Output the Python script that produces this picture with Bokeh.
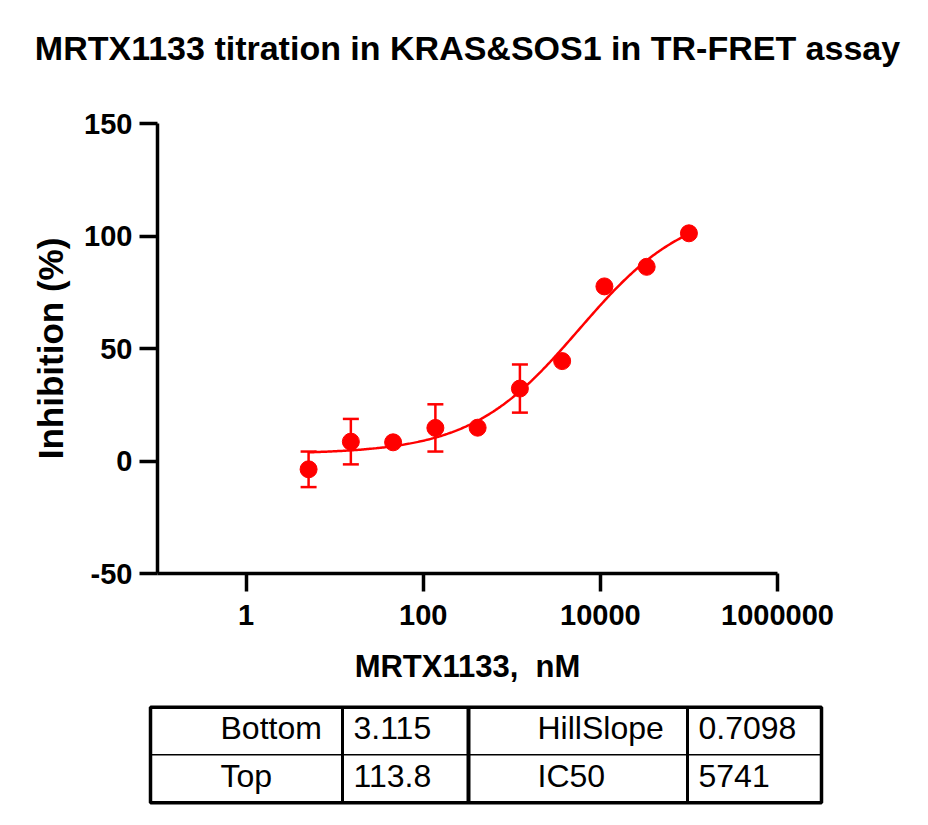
import numpy as np
from bokeh.plotting import figure
from bokeh.models import (ColumnDataSource, Range1d, FixedTicker, CustomJSTickFormatter,
                          Whisker, TeeHead, LinearScale)
from bokeh.core.properties import value
from bokeh.embed import file_html
from bokeh.resources import INLINE

# ---------------- data ----------------
title_text = "MRTX1133 titration in KRAS&SOS1 in TR-FRET assay"
x_label = "MRTX1133,\u00a0 nM"
y_label = "Inhibition (%)"

conc_nM = [5.08, 15.24, 45.72, 137.2, 411.5, 1235.0, 3704.0, 11111.0, 33333.0, 100000.0]
inhibition = [-3.7, 8.6, 8.3, 14.7, 14.8, 32.2, 44.4, 77.6, 86.3, 101.2]
inhibition_sd = [7.9, 10.1, 0.0, 10.5, 0.0, 10.7, 0.0, 0.0, 0.0, 0.0]

x_ticks = [1, 100, 10000, 1000000]
x_tick_labels = ["1", "100", "10000", "1000000"]
y_ticks = [-50, 0, 50, 100, 150]
y_tick_labels = ["-50", "0", "50", "100", "150"]

x_axis_min, x_axis_max = 0.1, 1e6
y_axis_min, y_axis_max = -50, 150

fit_bottom = 3.115
fit_top = 113.8
fit_hillslope = 0.7098
fit_ic50 = 5741.0

table_names_left = ["Bottom", "Top"]
table_values_left = ["3.115", "113.8"]
table_names_right = ["HillSlope", "IC50"]
table_values_right = ["0.7098", "5741"]

# ---------------- layout / styles ----------------
RED = "#FF0000"
FONT = "Liberation Sans"
W, H = 912, 817
# pixel positions of the axes box on the canvas
AX_L, AX_R, AX_T, AX_B = 157, 777, 123, 573

px_per_dec = (AX_R - AX_L) / (np.log10(x_axis_max) - np.log10(x_axis_min))
x_start = 10 ** (np.log10(x_axis_min) - AX_L / px_per_dec)
x_end = 10 ** (np.log10(x_axis_max) + (W - AX_R) / px_per_dec)
px_per_unit = (AX_B - AX_T) / (y_axis_max - y_axis_min)
y_start = y_axis_min - (H - AX_B) / px_per_unit
y_end = y_axis_max + AX_T / px_per_unit

p = figure(width=W, height=H, x_axis_type="log",
           x_range=Range1d(x_start, x_end), y_range=Range1d(y_start, y_end),
           output_backend="svg", toolbar_location=None, min_border=0)
p.extra_x_ranges = {"px": Range1d(0, W)}
p.extra_x_scales = {"px": LinearScale()}
p.extra_y_ranges = {"px": Range1d(H, 0)}
p.extra_y_scales = {"px": LinearScale()}
p.title.visible = False
p.outline_line_color = None
p.xgrid.visible = False
p.ygrid.visible = False
p.background_fill_color = "white"
p.border_fill_color = "white"

for ax in (p.xaxis[0], p.yaxis[0]):
    ax.axis_line_width = 3.5
    ax.axis_line_color = "black"
    ax.major_tick_line_width = 3.5
    ax.major_tick_line_color = "black"
    ax.major_tick_out = 18
    ax.major_tick_in = 0
    ax.minor_tick_line_color = None
    ax.major_label_text_font = FONT
    ax.major_label_text_font_size = "29px"
    ax.major_label_text_font_style = "bold"
    ax.major_label_text_color = "black"
    ax.axis_label_text_font = FONT
    ax.axis_label_text_font_style = "bold"
    ax.axis_label_text_color = "black"

xa = p.xaxis[0]
xa.fixed_location = y_axis_min
xa.bounds = (x_axis_min, x_axis_max)
xa.ticker = FixedTicker(ticks=x_ticks)
xa.formatter = CustomJSTickFormatter(
    args=dict(tvals=x_ticks, tlabels=x_tick_labels),
    code="for (let i = 0; i < tvals.length; i++) { if (Math.abs(tvals[i] - tick) < 1e-6 * tvals[i]) return tlabels[i]; } return '';")
xa.major_label_standoff = 13
xa.axis_label = x_label
xa.axis_label_text_font_size = "31px"
xa.axis_label_standoff = 21

ya = p.yaxis[0]
ya.fixed_location = x_axis_min
ya.bounds = (y_axis_min, y_axis_max)
ya.ticker = FixedTicker(ticks=y_ticks)
ya.formatter = CustomJSTickFormatter(
    args=dict(tvals=y_ticks, tlabels=y_tick_labels),
    code="const i = tvals.indexOf(tick); return i >= 0 ? tlabels[i] : '';")
ya.major_label_standoff = 7
ya.axis_label = y_label
ya.axis_label_text_font_size = "35px"
ya.axis_label_standoff = 11

# fitted 4PL curve from the fit parameters shown in the table
xc = np.logspace(np.log10(conc_nM[0]), np.log10(conc_nM[-1]), 300)
yc = fit_bottom + (fit_top - fit_bottom) / (1.0 + (fit_ic50 / xc) ** fit_hillslope)
p.line(xc, yc, line_color=RED, line_width=2.5)

# error bars (SD)
eb = [(c, m, s) for c, m, s in zip(conc_nM, inhibition, inhibition_sd) if s > 0]
err_src = ColumnDataSource(data=dict(
    x=[e[0] for e in eb],
    upper=[e[1] + e[2] for e in eb],
    lower=[e[1] - e[2] for e in eb]))
p.add_layout(Whisker(source=err_src, base="x", upper="upper", lower="lower", dimension="height",
                     line_color=RED, line_width=2.5,
                     upper_head=TeeHead(size=16, line_color=RED, line_width=2.5),
                     lower_head=TeeHead(size=16, line_color=RED, line_width=2.5)))

p.scatter(conc_nM, inhibition, size=17, marker="circle", fill_color=RED, line_color=RED)

# title (pixel coordinates)
p.text(x=[(AX_L + AX_R) / 2], y=[47], text=[title_text], x_range_name="px", y_range_name="px",
       text_font=value(FONT), text_font_size="34px", text_font_style="bold",
       text_align="center", text_baseline="middle", text_color="black")

# ---------------- table of fit parameters (pixel coordinates) ----------------
tbl_left, tbl_right = 150, 821
tbl_top, tbl_mid, tbl_bottom = 706.7, 754.3, 802.3
col_edges = [342, 468, 687]
text_x = [220, 353, 537, 698]
baselines = [727, 775]

p.quad(left=[tbl_left], right=[tbl_right], top=[tbl_top], bottom=[tbl_bottom],
       x_range_name="px", y_range_name="px",
       fill_color=None, line_color="black", line_width=3.5)
p.segment(x0=[tbl_left], y0=[tbl_mid], x1=[tbl_right], y1=[tbl_mid],
          x_range_name="px", y_range_name="px", line_color="black", line_width=1.5)
p.segment(x0=col_edges, y0=[tbl_top] * 3, x1=col_edges, y1=[tbl_bottom] * 3,
          x_range_name="px", y_range_name="px", line_color="black", line_width=[3, 4, 3])

cols = [table_names_left, table_values_left, table_names_right, table_values_right]
tx, ty, tt = [], [], []
for ci, col in enumerate(cols):
    for ri, s in enumerate(col):
        tx.append(text_x[ci]); ty.append(baselines[ri]); tt.append(s)
p.text(x=tx, y=ty, text=tt, x_range_name="px", y_range_name="px",
       text_font=value(FONT), text_font_size="32px",
       text_align="left", text_baseline="alphabetic", text_color="black")

open("out.html", "w").write(file_html(p, INLINE))
